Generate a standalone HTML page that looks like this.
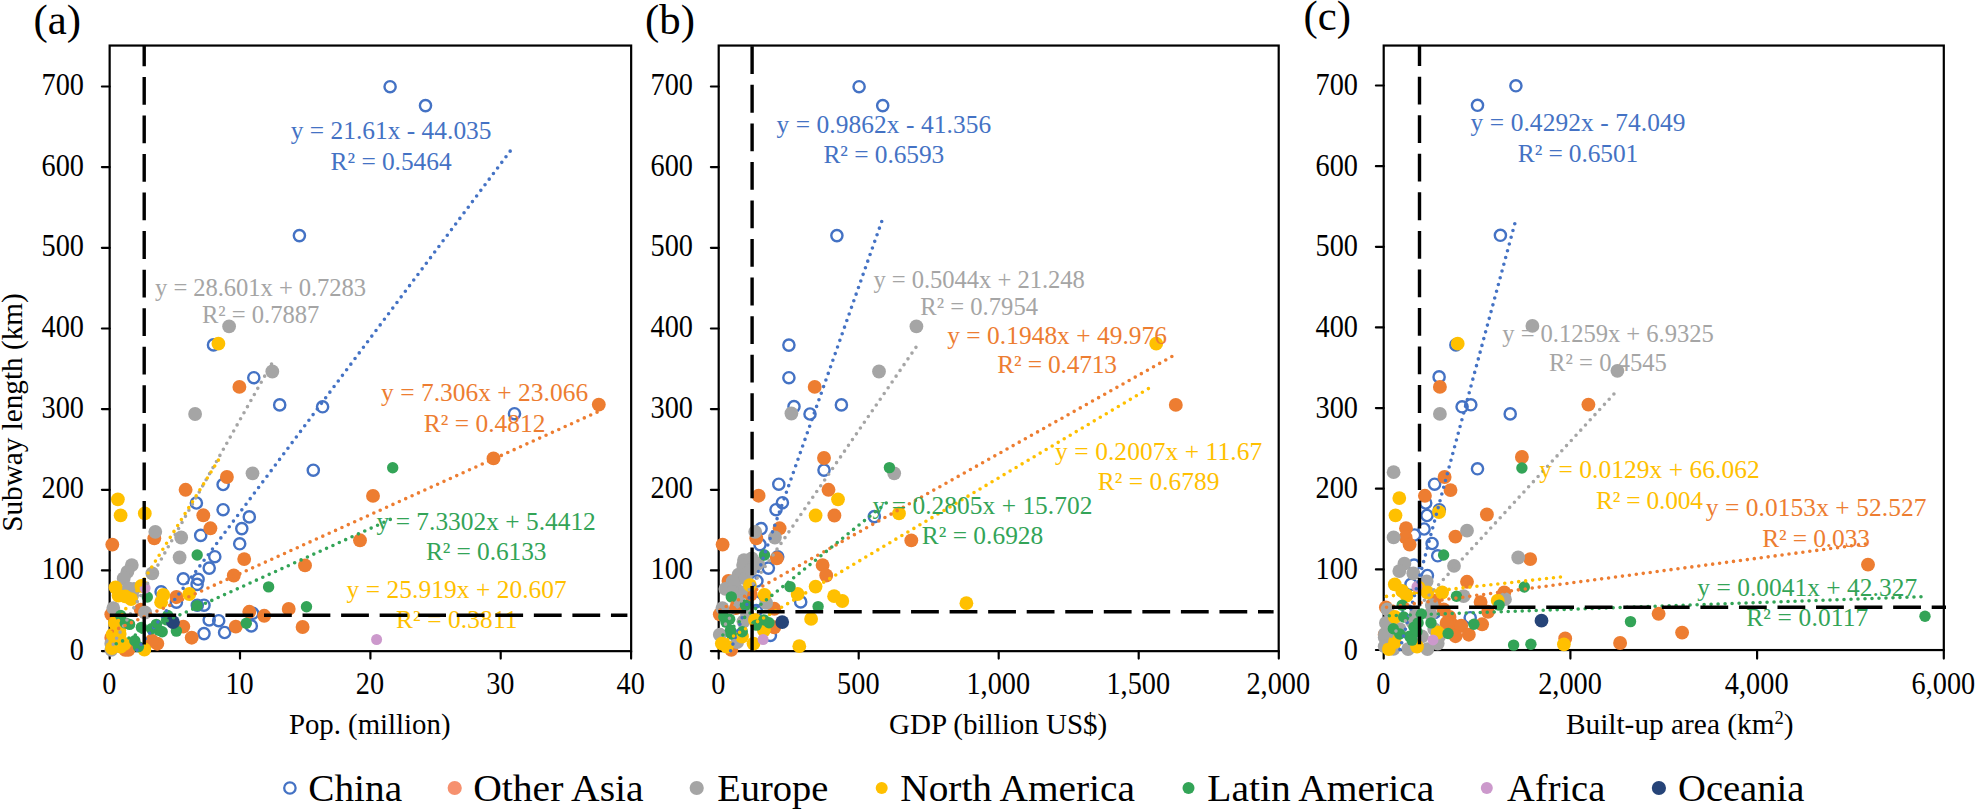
<!DOCTYPE html>
<html lang="en"><head><meta charset="utf-8"><title>Subway length vs population, GDP and built-up area</title>
<style>html,body{margin:0;padding:0;background:#fff;overflow:hidden}svg{display:block}</style></head>
<body>
<svg width="1975" height="811" viewBox="0 0 1975 811" font-family="'Liberation Serif', serif">
<rect width="1975" height="811" fill="#fff"/>
<g id="panel-a">
<rect x="109.65" y="45.55" width="521.5" height="605.6" fill="none" stroke="#000" stroke-width="2.2"/>
<line x1="101.9" y1="651.1" x2="109.65" y2="651.1" stroke="#000" stroke-width="2.2" stroke-linecap="round"/>
<text transform="translate(84,659.7) scale(0.925,1)" font-size="30.6" text-anchor="end">0</text>
<line x1="101.9" y1="570.4" x2="109.65" y2="570.4" stroke="#000" stroke-width="2.2" stroke-linecap="round"/>
<text transform="translate(84,579) scale(0.925,1)" font-size="30.6" text-anchor="end">100</text>
<line x1="101.9" y1="489.8" x2="109.65" y2="489.8" stroke="#000" stroke-width="2.2" stroke-linecap="round"/>
<text transform="translate(84,498.4) scale(0.925,1)" font-size="30.6" text-anchor="end">200</text>
<line x1="101.9" y1="409.1" x2="109.65" y2="409.1" stroke="#000" stroke-width="2.2" stroke-linecap="round"/>
<text transform="translate(84,417.7) scale(0.925,1)" font-size="30.6" text-anchor="end">300</text>
<line x1="101.9" y1="328.5" x2="109.65" y2="328.5" stroke="#000" stroke-width="2.2" stroke-linecap="round"/>
<text transform="translate(84,337.1) scale(0.925,1)" font-size="30.6" text-anchor="end">400</text>
<line x1="101.9" y1="247.8" x2="109.65" y2="247.8" stroke="#000" stroke-width="2.2" stroke-linecap="round"/>
<text transform="translate(84,256.4) scale(0.925,1)" font-size="30.6" text-anchor="end">500</text>
<line x1="101.9" y1="167.1" x2="109.65" y2="167.1" stroke="#000" stroke-width="2.2" stroke-linecap="round"/>
<text transform="translate(84,175.7) scale(0.925,1)" font-size="30.6" text-anchor="end">600</text>
<line x1="101.9" y1="86.5" x2="109.65" y2="86.5" stroke="#000" stroke-width="2.2" stroke-linecap="round"/>
<text transform="translate(84,95.1) scale(0.925,1)" font-size="30.6" text-anchor="end">700</text>
<line x1="109.7" y1="651.1" x2="109.7" y2="658.6" stroke="#000" stroke-width="2.2" stroke-linecap="round"/>
<text transform="translate(109.2,693.5) scale(0.925,1)" font-size="30.6" text-anchor="middle">0</text>
<line x1="240" y1="651.1" x2="240" y2="658.6" stroke="#000" stroke-width="2.2" stroke-linecap="round"/>
<text transform="translate(239.6,693.5) scale(0.925,1)" font-size="30.6" text-anchor="middle">10</text>
<line x1="370.4" y1="651.1" x2="370.4" y2="658.6" stroke="#000" stroke-width="2.2" stroke-linecap="round"/>
<text transform="translate(370,693.5) scale(0.925,1)" font-size="30.6" text-anchor="middle">20</text>
<line x1="500.7" y1="651.1" x2="500.7" y2="658.6" stroke="#000" stroke-width="2.2" stroke-linecap="round"/>
<text transform="translate(500.3,693.5) scale(0.925,1)" font-size="30.6" text-anchor="middle">30</text>
<line x1="631.1" y1="651.1" x2="631.1" y2="658.6" stroke="#000" stroke-width="2.2" stroke-linecap="round"/>
<text transform="translate(630.7,693.5) scale(0.925,1)" font-size="30.6" text-anchor="middle">40</text>
<circle cx="213.5" cy="344.9" r="5.6" fill="none" stroke="#4472C4" stroke-width="2.4"/>
<circle cx="253.8" cy="377.7" r="5.6" fill="none" stroke="#4472C4" stroke-width="2.4"/>
<circle cx="279.7" cy="404.9" r="5.6" fill="none" stroke="#4472C4" stroke-width="2.4"/>
<circle cx="322.6" cy="406.8" r="5.6" fill="none" stroke="#4472C4" stroke-width="2.4"/>
<circle cx="390.1" cy="86.7" r="5.6" fill="none" stroke="#4472C4" stroke-width="2.4"/>
<circle cx="425.5" cy="105.6" r="5.6" fill="none" stroke="#4472C4" stroke-width="2.4"/>
<circle cx="299.4" cy="235.6" r="5.6" fill="none" stroke="#4472C4" stroke-width="2.4"/>
<circle cx="514.5" cy="413.7" r="5.6" fill="none" stroke="#4472C4" stroke-width="2.4"/>
<circle cx="313.3" cy="470.2" r="5.6" fill="none" stroke="#4472C4" stroke-width="2.4"/>
<circle cx="196.4" cy="503" r="5.6" fill="none" stroke="#4472C4" stroke-width="2.4"/>
<circle cx="223.1" cy="484.5" r="5.6" fill="none" stroke="#4472C4" stroke-width="2.4"/>
<circle cx="223.1" cy="509.7" r="5.6" fill="none" stroke="#4472C4" stroke-width="2.4"/>
<circle cx="249.3" cy="516.9" r="5.6" fill="none" stroke="#4472C4" stroke-width="2.4"/>
<circle cx="241.8" cy="528.6" r="5.6" fill="none" stroke="#4472C4" stroke-width="2.4"/>
<circle cx="200.7" cy="535.4" r="5.6" fill="none" stroke="#4472C4" stroke-width="2.4"/>
<circle cx="239.7" cy="543.8" r="5.6" fill="none" stroke="#4472C4" stroke-width="2.4"/>
<circle cx="214.8" cy="556.7" r="5.6" fill="none" stroke="#4472C4" stroke-width="2.4"/>
<circle cx="252.7" cy="613.3" r="5.6" fill="none" stroke="#4472C4" stroke-width="2.4"/>
<circle cx="251.3" cy="625.9" r="5.6" fill="none" stroke="#4472C4" stroke-width="2.4"/>
<circle cx="218.7" cy="620.7" r="5.6" fill="none" stroke="#4472C4" stroke-width="2.4"/>
<circle cx="224.6" cy="632.5" r="5.6" fill="none" stroke="#4472C4" stroke-width="2.4"/>
<circle cx="209.2" cy="568.1" r="5.6" fill="none" stroke="#4472C4" stroke-width="2.4"/>
<circle cx="183.3" cy="578.8" r="5.6" fill="none" stroke="#4472C4" stroke-width="2.4"/>
<circle cx="198.1" cy="579.3" r="5.6" fill="none" stroke="#4472C4" stroke-width="2.4"/>
<circle cx="197.1" cy="584.4" r="5.6" fill="none" stroke="#4472C4" stroke-width="2.4"/>
<circle cx="161.1" cy="591.8" r="5.6" fill="none" stroke="#4472C4" stroke-width="2.4"/>
<circle cx="176.4" cy="602.2" r="5.6" fill="none" stroke="#4472C4" stroke-width="2.4"/>
<circle cx="197.3" cy="605.2" r="5.6" fill="none" stroke="#4472C4" stroke-width="2.4"/>
<circle cx="204" cy="605.2" r="5.6" fill="none" stroke="#4472C4" stroke-width="2.4"/>
<circle cx="204" cy="633.6" r="5.6" fill="none" stroke="#4472C4" stroke-width="2.4"/>
<circle cx="209.2" cy="619.9" r="5.6" fill="none" stroke="#4472C4" stroke-width="2.4"/>
<circle cx="239.4" cy="386.9" r="6.95" fill="#ED7D31"/>
<circle cx="598.8" cy="404.6" r="6.95" fill="#ED7D31"/>
<circle cx="493.5" cy="458.4" r="6.95" fill="#ED7D31"/>
<circle cx="373" cy="495.9" r="6.95" fill="#ED7D31"/>
<circle cx="360" cy="540.3" r="6.95" fill="#ED7D31"/>
<circle cx="305" cy="565.4" r="6.95" fill="#ED7D31"/>
<circle cx="302.6" cy="627" r="6.95" fill="#ED7D31"/>
<circle cx="112.3" cy="544.6" r="6.95" fill="#ED7D31"/>
<circle cx="185.6" cy="489.8" r="6.95" fill="#ED7D31"/>
<circle cx="226.9" cy="477" r="6.95" fill="#ED7D31"/>
<circle cx="203.3" cy="515.3" r="6.95" fill="#ED7D31"/>
<circle cx="210.4" cy="528.3" r="6.95" fill="#ED7D31"/>
<circle cx="154.3" cy="538.3" r="6.95" fill="#ED7D31"/>
<circle cx="244.2" cy="559.1" r="6.95" fill="#ED7D31"/>
<circle cx="233.8" cy="575.5" r="6.95" fill="#ED7D31"/>
<circle cx="249.3" cy="611.8" r="6.95" fill="#ED7D31"/>
<circle cx="264.2" cy="615.8" r="6.95" fill="#ED7D31"/>
<circle cx="288.7" cy="608.9" r="6.95" fill="#ED7D31"/>
<circle cx="235.8" cy="626.6" r="6.95" fill="#ED7D31"/>
<circle cx="176.4" cy="597" r="6.95" fill="#ED7D31"/>
<circle cx="183.3" cy="626.6" r="6.95" fill="#ED7D31"/>
<circle cx="191.7" cy="637.7" r="6.95" fill="#ED7D31"/>
<circle cx="157.3" cy="643.7" r="6.95" fill="#ED7D31"/>
<circle cx="111.3" cy="637.7" r="6.95" fill="#ED7D31"/>
<circle cx="125.2" cy="649.8" r="6.95" fill="#ED7D31"/>
<circle cx="151.9" cy="640.7" r="6.95" fill="#ED7D31"/>
<circle cx="140.7" cy="609.6" r="6.95" fill="#ED7D31"/>
<circle cx="111.3" cy="614.3" r="6.95" fill="#ED7D31"/>
<circle cx="128.4" cy="649.8" r="6.95" fill="#ED7D31"/>
<circle cx="229.1" cy="326.4" r="6.9" fill="#A5A5A5"/>
<circle cx="272.3" cy="371.5" r="6.9" fill="#A5A5A5"/>
<circle cx="195.1" cy="414" r="6.9" fill="#A5A5A5"/>
<circle cx="252.5" cy="473.3" r="6.9" fill="#A5A5A5"/>
<circle cx="155.3" cy="531.8" r="6.9" fill="#A5A5A5"/>
<circle cx="181.2" cy="537.5" r="6.9" fill="#A5A5A5"/>
<circle cx="179.6" cy="557.5" r="6.9" fill="#A5A5A5"/>
<circle cx="152.3" cy="573.3" r="6.9" fill="#A5A5A5"/>
<circle cx="111.3" cy="643.7" r="6.9" fill="#A5A5A5"/>
<circle cx="111.3" cy="649.8" r="6.9" fill="#A5A5A5"/>
<circle cx="131.8" cy="565.1" r="6.9" fill="#A5A5A5"/>
<circle cx="127.4" cy="571.8" r="6.9" fill="#A5A5A5"/>
<circle cx="123.7" cy="578.5" r="6.9" fill="#A5A5A5"/>
<circle cx="134" cy="588.9" r="6.9" fill="#A5A5A5"/>
<circle cx="113.3" cy="608.1" r="6.9" fill="#A5A5A5"/>
<circle cx="145.1" cy="612.5" r="6.9" fill="#A5A5A5"/>
<circle cx="128.4" cy="588.4" r="6.9" fill="#A5A5A5"/>
<circle cx="132.1" cy="595.7" r="6.9" fill="#A5A5A5"/>
<circle cx="218.4" cy="343.7" r="6.9" fill="#FFC000"/>
<circle cx="117.9" cy="499.3" r="6.9" fill="#FFC000"/>
<circle cx="120.6" cy="515.3" r="6.9" fill="#FFC000"/>
<circle cx="144.8" cy="513.4" r="6.9" fill="#FFC000"/>
<circle cx="189.3" cy="594" r="6.9" fill="#FFC000"/>
<circle cx="163.3" cy="594.8" r="6.9" fill="#FFC000"/>
<circle cx="161.1" cy="602.2" r="6.9" fill="#FFC000"/>
<circle cx="115.5" cy="587.4" r="6.9" fill="#FFC000"/>
<circle cx="118.5" cy="595.5" r="6.9" fill="#FFC000"/>
<circle cx="131.1" cy="599.2" r="6.9" fill="#FFC000"/>
<circle cx="125.2" cy="596.3" r="6.9" fill="#FFC000"/>
<circle cx="141.4" cy="585.9" r="6.9" fill="#FFC000"/>
<circle cx="114.9" cy="622.9" r="6.9" fill="#FFC000"/>
<circle cx="119.3" cy="630.3" r="6.9" fill="#FFC000"/>
<circle cx="112.6" cy="634.7" r="6.9" fill="#FFC000"/>
<circle cx="114.9" cy="643.7" r="6.9" fill="#FFC000"/>
<circle cx="111.9" cy="648.1" r="6.9" fill="#FFC000"/>
<circle cx="120.7" cy="646.6" r="6.9" fill="#FFC000"/>
<circle cx="144.4" cy="649.5" r="6.9" fill="#FFC000"/>
<circle cx="119.7" cy="634" r="6.9" fill="#FFC000"/>
<circle cx="124.6" cy="643.8" r="6.9" fill="#FFC000"/>
<circle cx="392.7" cy="467.8" r="5.7" fill="#33A457"/>
<circle cx="306.5" cy="606.8" r="5.7" fill="#33A457"/>
<circle cx="197.2" cy="555" r="5.7" fill="#33A457"/>
<circle cx="268.6" cy="586.9" r="5.7" fill="#33A457"/>
<circle cx="246.3" cy="623.3" r="5.7" fill="#33A457"/>
<circle cx="197.1" cy="605.6" r="5.7" fill="#33A457"/>
<circle cx="167.8" cy="615.5" r="5.7" fill="#33A457"/>
<circle cx="158.9" cy="630.3" r="5.7" fill="#33A457"/>
<circle cx="176.4" cy="631.1" r="5.7" fill="#33A457"/>
<circle cx="151.5" cy="628.8" r="5.7" fill="#33A457"/>
<circle cx="147.3" cy="597" r="5.7" fill="#33A457"/>
<circle cx="120.7" cy="615.5" r="5.7" fill="#33A457"/>
<circle cx="129.6" cy="624.4" r="5.7" fill="#33A457"/>
<circle cx="125.2" cy="622.9" r="5.7" fill="#33A457"/>
<circle cx="141.4" cy="627.4" r="5.7" fill="#33A457"/>
<circle cx="134.8" cy="640.7" r="5.7" fill="#33A457"/>
<circle cx="138.4" cy="646.6" r="5.7" fill="#33A457"/>
<circle cx="156.3" cy="624.4" r="5.7" fill="#33A457"/>
<circle cx="162.2" cy="631.8" r="5.7" fill="#33A457"/>
<circle cx="166.6" cy="619.9" r="5.7" fill="#33A457"/>
<circle cx="376.6" cy="639.5" r="5.5" fill="#CC99CC"/>
<circle cx="145.1" cy="588.1" r="5.5" fill="#CC99CC"/>
<circle cx="173" cy="622.2" r="6.9" fill="#264478"/>
<line x1="137" y1="650" x2="513.8" y2="146.3" stroke="#4472C4" stroke-width="3.6" stroke-linecap="round" stroke-dasharray="0 7" stroke-dashoffset="0"/>
<line x1="112.3" y1="645.9" x2="272.6" y2="362.1" stroke="#A5A5A5" stroke-width="3.6" stroke-linecap="round" stroke-dasharray="0 7" stroke-dashoffset="5.2"/>
<line x1="112.3" y1="631.3" x2="598.5" y2="411.5" stroke="#ED7D31" stroke-width="3.6" stroke-linecap="round" stroke-dasharray="0 7" stroke-dashoffset="0"/>
<line x1="116.2" y1="643.8" x2="392.5" y2="518.4" stroke="#33A457" stroke-width="3.6" stroke-linecap="round" stroke-dasharray="0 7" stroke-dashoffset="0"/>
<line x1="111" y1="632.4" x2="220.5" y2="456.8" stroke="#FFC000" stroke-width="3.6" stroke-linecap="round" stroke-dasharray="0 7" stroke-dashoffset="0"/>
<text x="391.1" y="139.3" font-size="25.4" fill="#4472C4" text-anchor="middle" textLength="200.8" lengthAdjust="spacing">y = 21.61x - 44.035</text>
<text x="391.1" y="169.5" font-size="25.4" fill="#4472C4" text-anchor="middle" textLength="121" lengthAdjust="spacing">R² = 0.5464</text>
<text x="260.6" y="295.9" font-size="24.6" fill="#A5A5A5" text-anchor="middle" textLength="211" lengthAdjust="spacing">y = 28.601x + 0.7283</text>
<text x="260.6" y="322.8" font-size="24.6" fill="#A5A5A5" text-anchor="middle" textLength="117.4" lengthAdjust="spacing">R² = 0.7887</text>
<text x="484.6" y="401.4" font-size="25.4" fill="#ED7D31" text-anchor="middle" textLength="207.1" lengthAdjust="spacing">y = 7.306x + 23.066</text>
<text x="484.6" y="431.8" font-size="25.4" fill="#ED7D31" text-anchor="middle" textLength="121.5" lengthAdjust="spacing">R² = 0.4812</text>
<text x="486.2" y="530.2" font-size="25.4" fill="#33A457" text-anchor="middle" textLength="219.2" lengthAdjust="spacing">y = 7.3302x + 5.4412</text>
<text x="486.2" y="560.2" font-size="25.4" fill="#33A457" text-anchor="middle" textLength="120.5" lengthAdjust="spacing">R² = 0.6133</text>
<text x="456.7" y="597.5" font-size="25.4" fill="#FFC000" text-anchor="middle" textLength="220.2" lengthAdjust="spacing">y = 25.919x + 20.607</text>
<text x="456.7" y="627.5" font-size="25.4" fill="#FFC000" text-anchor="middle" textLength="121.5" lengthAdjust="spacing">R² = 0.3811</text>
<line x1="144.2" y1="644.4" x2="144.2" y2="45.6" stroke="#000" stroke-width="3.4" stroke-dasharray="27.8 10.75"/>
<line x1="109.8" y1="615.2" x2="627.4" y2="615.2" stroke="#000" stroke-width="3.4" stroke-dasharray="27.8 10.75"/>
</g>
<g id="panel-b">
<rect x="718.7" y="45.55" width="560" height="605.6" fill="none" stroke="#000" stroke-width="2.2"/>
<line x1="710.9" y1="651.1" x2="718.7" y2="651.1" stroke="#000" stroke-width="2.2" stroke-linecap="round"/>
<text transform="translate(693,659.7) scale(0.925,1)" font-size="30.6" text-anchor="end">0</text>
<line x1="710.9" y1="570.4" x2="718.7" y2="570.4" stroke="#000" stroke-width="2.2" stroke-linecap="round"/>
<text transform="translate(693,579) scale(0.925,1)" font-size="30.6" text-anchor="end">100</text>
<line x1="710.9" y1="489.8" x2="718.7" y2="489.8" stroke="#000" stroke-width="2.2" stroke-linecap="round"/>
<text transform="translate(693,498.4) scale(0.925,1)" font-size="30.6" text-anchor="end">200</text>
<line x1="710.9" y1="409.1" x2="718.7" y2="409.1" stroke="#000" stroke-width="2.2" stroke-linecap="round"/>
<text transform="translate(693,417.7) scale(0.925,1)" font-size="30.6" text-anchor="end">300</text>
<line x1="710.9" y1="328.5" x2="718.7" y2="328.5" stroke="#000" stroke-width="2.2" stroke-linecap="round"/>
<text transform="translate(693,337.1) scale(0.925,1)" font-size="30.6" text-anchor="end">400</text>
<line x1="710.9" y1="247.8" x2="718.7" y2="247.8" stroke="#000" stroke-width="2.2" stroke-linecap="round"/>
<text transform="translate(693,256.4) scale(0.925,1)" font-size="30.6" text-anchor="end">500</text>
<line x1="710.9" y1="167.1" x2="718.7" y2="167.1" stroke="#000" stroke-width="2.2" stroke-linecap="round"/>
<text transform="translate(693,175.7) scale(0.925,1)" font-size="30.6" text-anchor="end">600</text>
<line x1="710.9" y1="86.5" x2="718.7" y2="86.5" stroke="#000" stroke-width="2.2" stroke-linecap="round"/>
<text transform="translate(693,95.1) scale(0.925,1)" font-size="30.6" text-anchor="end">700</text>
<line x1="718.7" y1="651.1" x2="718.7" y2="658.6" stroke="#000" stroke-width="2.2" stroke-linecap="round"/>
<text transform="translate(718.3,693.5) scale(0.925,1)" font-size="30.6" text-anchor="middle">0</text>
<line x1="858.7" y1="651.1" x2="858.7" y2="658.6" stroke="#000" stroke-width="2.2" stroke-linecap="round"/>
<text transform="translate(858.3,693.5) scale(0.925,1)" font-size="30.6" text-anchor="middle">500</text>
<line x1="998.7" y1="651.1" x2="998.7" y2="658.6" stroke="#000" stroke-width="2.2" stroke-linecap="round"/>
<text transform="translate(998.3,693.5) scale(0.925,1)" font-size="30.6" text-anchor="middle">1,000</text>
<line x1="1138.7" y1="651.1" x2="1138.7" y2="658.6" stroke="#000" stroke-width="2.2" stroke-linecap="round"/>
<text transform="translate(1138.3,693.5) scale(0.925,1)" font-size="30.6" text-anchor="middle">1,500</text>
<line x1="1278.8" y1="651.1" x2="1278.8" y2="658.6" stroke="#000" stroke-width="2.2" stroke-linecap="round"/>
<text transform="translate(1278.3,693.5) scale(0.925,1)" font-size="30.6" text-anchor="middle">2,000</text>
<circle cx="859.1" cy="86.7" r="5.6" fill="none" stroke="#4472C4" stroke-width="2.4"/>
<circle cx="882.7" cy="105.6" r="5.6" fill="none" stroke="#4472C4" stroke-width="2.4"/>
<circle cx="836.9" cy="235.6" r="5.6" fill="none" stroke="#4472C4" stroke-width="2.4"/>
<circle cx="788.9" cy="345.1" r="5.6" fill="none" stroke="#4472C4" stroke-width="2.4"/>
<circle cx="788.9" cy="377.7" r="5.6" fill="none" stroke="#4472C4" stroke-width="2.4"/>
<circle cx="841.4" cy="404.9" r="5.6" fill="none" stroke="#4472C4" stroke-width="2.4"/>
<circle cx="794" cy="406.6" r="5.6" fill="none" stroke="#4472C4" stroke-width="2.4"/>
<circle cx="810" cy="414" r="5.6" fill="none" stroke="#4472C4" stroke-width="2.4"/>
<circle cx="824" cy="470.1" r="5.6" fill="none" stroke="#4472C4" stroke-width="2.4"/>
<circle cx="874.3" cy="516.6" r="5.6" fill="none" stroke="#4472C4" stroke-width="2.4"/>
<circle cx="778.8" cy="484.2" r="5.6" fill="none" stroke="#4472C4" stroke-width="2.4"/>
<circle cx="782.4" cy="502.7" r="5.6" fill="none" stroke="#4472C4" stroke-width="2.4"/>
<circle cx="776" cy="509.7" r="5.6" fill="none" stroke="#4472C4" stroke-width="2.4"/>
<circle cx="761.1" cy="528.6" r="5.6" fill="none" stroke="#4472C4" stroke-width="2.4"/>
<circle cx="760" cy="544.6" r="5.6" fill="none" stroke="#4472C4" stroke-width="2.4"/>
<circle cx="777.7" cy="556.7" r="5.6" fill="none" stroke="#4472C4" stroke-width="2.4"/>
<circle cx="800.7" cy="601.9" r="5.6" fill="none" stroke="#4472C4" stroke-width="2.4"/>
<circle cx="770.4" cy="635.4" r="5.6" fill="none" stroke="#4472C4" stroke-width="2.4"/>
<circle cx="768.4" cy="568.1" r="5.6" fill="none" stroke="#4472C4" stroke-width="2.4"/>
<circle cx="755.5" cy="601.9" r="5.6" fill="none" stroke="#4472C4" stroke-width="2.4"/>
<circle cx="756.3" cy="610.6" r="5.6" fill="none" stroke="#4472C4" stroke-width="2.4"/>
<circle cx="756.9" cy="581" r="5.6" fill="none" stroke="#4472C4" stroke-width="2.4"/>
<circle cx="814.7" cy="386.9" r="6.95" fill="#ED7D31"/>
<circle cx="824" cy="458" r="6.95" fill="#ED7D31"/>
<circle cx="828.5" cy="489.8" r="6.95" fill="#ED7D31"/>
<circle cx="834.4" cy="515.5" r="6.95" fill="#ED7D31"/>
<circle cx="911.3" cy="540.4" r="6.95" fill="#ED7D31"/>
<circle cx="758.6" cy="495.7" r="6.95" fill="#ED7D31"/>
<circle cx="756.3" cy="538.3" r="6.95" fill="#ED7D31"/>
<circle cx="779.6" cy="528.3" r="6.95" fill="#ED7D31"/>
<circle cx="722.6" cy="544.6" r="6.95" fill="#ED7D31"/>
<circle cx="776.8" cy="558.3" r="6.95" fill="#ED7D31"/>
<circle cx="822.6" cy="565.1" r="6.95" fill="#ED7D31"/>
<circle cx="826.2" cy="575.5" r="6.95" fill="#ED7D31"/>
<circle cx="774.3" cy="608.8" r="6.95" fill="#ED7D31"/>
<circle cx="731.3" cy="649.8" r="6.95" fill="#ED7D31"/>
<circle cx="774.3" cy="627.3" r="6.95" fill="#ED7D31"/>
<circle cx="1175.8" cy="404.9" r="6.95" fill="#ED7D31"/>
<circle cx="719.8" cy="614.3" r="6.95" fill="#ED7D31"/>
<circle cx="735.8" cy="608.1" r="6.95" fill="#ED7D31"/>
<circle cx="728.5" cy="581" r="6.95" fill="#ED7D31"/>
<circle cx="750.7" cy="594.5" r="6.95" fill="#ED7D31"/>
<circle cx="916.4" cy="326.4" r="6.9" fill="#A5A5A5"/>
<circle cx="879" cy="371.5" r="6.9" fill="#A5A5A5"/>
<circle cx="791.4" cy="413.5" r="6.9" fill="#A5A5A5"/>
<circle cx="894.2" cy="473.3" r="6.9" fill="#A5A5A5"/>
<circle cx="755.2" cy="531.8" r="6.9" fill="#A5A5A5"/>
<circle cx="774.9" cy="537.5" r="6.9" fill="#A5A5A5"/>
<circle cx="751.8" cy="558.3" r="6.9" fill="#A5A5A5"/>
<circle cx="744" cy="560.1" r="6.9" fill="#A5A5A5"/>
<circle cx="743.1" cy="565.1" r="6.9" fill="#A5A5A5"/>
<circle cx="738.6" cy="574.7" r="6.9" fill="#A5A5A5"/>
<circle cx="732.7" cy="581.4" r="6.9" fill="#A5A5A5"/>
<circle cx="725.4" cy="588.9" r="6.9" fill="#A5A5A5"/>
<circle cx="722.4" cy="608.1" r="6.9" fill="#A5A5A5"/>
<circle cx="766.2" cy="602.9" r="6.9" fill="#A5A5A5"/>
<circle cx="737.2" cy="642.1" r="6.9" fill="#A5A5A5"/>
<circle cx="719.8" cy="634.7" r="6.9" fill="#A5A5A5"/>
<circle cx="734.7" cy="584.7" r="6.9" fill="#A5A5A5"/>
<circle cx="740.9" cy="592.1" r="6.9" fill="#A5A5A5"/>
<circle cx="745.7" cy="578.5" r="6.9" fill="#A5A5A5"/>
<circle cx="750.7" cy="569.9" r="6.9" fill="#A5A5A5"/>
<circle cx="732.2" cy="592.1" r="6.9" fill="#A5A5A5"/>
<circle cx="738.4" cy="600.7" r="6.9" fill="#A5A5A5"/>
<circle cx="747.1" cy="614.3" r="6.9" fill="#A5A5A5"/>
<circle cx="743.4" cy="621.6" r="6.9" fill="#A5A5A5"/>
<circle cx="758" cy="563.7" r="6.9" fill="#A5A5A5"/>
<circle cx="838" cy="499.3" r="6.9" fill="#FFC000"/>
<circle cx="815.6" cy="515.5" r="6.9" fill="#FFC000"/>
<circle cx="899" cy="513.4" r="6.9" fill="#FFC000"/>
<circle cx="815.6" cy="586.6" r="6.9" fill="#FFC000"/>
<circle cx="797.6" cy="594" r="6.9" fill="#FFC000"/>
<circle cx="834.1" cy="596.2" r="6.9" fill="#FFC000"/>
<circle cx="842.3" cy="601" r="6.9" fill="#FFC000"/>
<circle cx="811.1" cy="618.9" r="6.9" fill="#FFC000"/>
<circle cx="799.3" cy="646.2" r="6.9" fill="#FFC000"/>
<circle cx="749.9" cy="585.1" r="6.9" fill="#FFC000"/>
<circle cx="764.5" cy="594.8" r="6.9" fill="#FFC000"/>
<circle cx="763.9" cy="630.3" r="6.9" fill="#FFC000"/>
<circle cx="753.5" cy="643.6" r="6.9" fill="#FFC000"/>
<circle cx="721.8" cy="643.6" r="6.9" fill="#FFC000"/>
<circle cx="726.8" cy="646.6" r="6.9" fill="#FFC000"/>
<circle cx="754.9" cy="619.9" r="6.9" fill="#FFC000"/>
<circle cx="966.4" cy="603.2" r="6.9" fill="#FFC000"/>
<circle cx="1156.2" cy="343.7" r="6.9" fill="#FFC000"/>
<circle cx="742" cy="636.5" r="6.9" fill="#FFC000"/>
<circle cx="889.4" cy="467.6" r="5.7" fill="#33A457"/>
<circle cx="764.5" cy="555" r="5.7" fill="#33A457"/>
<circle cx="790" cy="586.6" r="5.7" fill="#33A457"/>
<circle cx="818.1" cy="606.6" r="5.7" fill="#33A457"/>
<circle cx="731.3" cy="596.9" r="5.7" fill="#33A457"/>
<circle cx="745.4" cy="605.1" r="5.7" fill="#33A457"/>
<circle cx="763.9" cy="619.9" r="5.7" fill="#33A457"/>
<circle cx="769" cy="622.8" r="5.7" fill="#33A457"/>
<circle cx="756.3" cy="625.1" r="5.7" fill="#33A457"/>
<circle cx="726" cy="622.1" r="5.7" fill="#33A457"/>
<circle cx="730.5" cy="630.3" r="5.7" fill="#33A457"/>
<circle cx="742.3" cy="631.7" r="5.7" fill="#33A457"/>
<circle cx="723.8" cy="616.9" r="5.7" fill="#33A457"/>
<circle cx="729.7" cy="619.2" r="5.7" fill="#33A457"/>
<circle cx="731.1" cy="634" r="5.7" fill="#33A457"/>
<circle cx="763.1" cy="639.5" r="5.5" fill="#CC99CC"/>
<circle cx="782.2" cy="622.1" r="6.9" fill="#264478"/>
<line x1="730.6" y1="650.7" x2="882" y2="220.7" stroke="#4472C4" stroke-width="3.6" stroke-linecap="round" stroke-dasharray="0 7" stroke-dashoffset="0"/>
<line x1="721.5" y1="629.9" x2="916.1" y2="347.1" stroke="#A5A5A5" stroke-width="3.6" stroke-linecap="round" stroke-dasharray="0 7" stroke-dashoffset="0"/>
<line x1="720.1" y1="610" x2="1177.1" y2="353.6" stroke="#ED7D31" stroke-width="3.6" stroke-linecap="round" stroke-dasharray="0 7" stroke-dashoffset="0"/>
<line x1="721.5" y1="643.1" x2="1151.9" y2="386.5" stroke="#FFC000" stroke-width="3.6" stroke-linecap="round" stroke-dasharray="0 7" stroke-dashoffset="0"/>
<line x1="722.9" y1="635" x2="889.5" y2="500.4" stroke="#33A457" stroke-width="3.6" stroke-linecap="round" stroke-dasharray="0 7" stroke-dashoffset="0"/>
<text x="883.9" y="133.1" font-size="25.4" fill="#4472C4" text-anchor="middle" textLength="214.7" lengthAdjust="spacing">y = 0.9862x - 41.356</text>
<text x="883.9" y="163.2" font-size="25.4" fill="#4472C4" text-anchor="middle" textLength="120.8" lengthAdjust="spacing">R² = 0.6593</text>
<text x="979.1" y="287.5" font-size="24.6" fill="#A5A5A5" text-anchor="middle" textLength="211.4" lengthAdjust="spacing">y = 0.5044x + 21.248</text>
<text x="979.1" y="315" font-size="24.6" fill="#A5A5A5" text-anchor="middle" textLength="117.8" lengthAdjust="spacing">R² = 0.7954</text>
<text x="1057.1" y="343.7" font-size="25.4" fill="#ED7D31" text-anchor="middle" textLength="219.8" lengthAdjust="spacing">y = 0.1948x + 49.976</text>
<text x="1057.1" y="373.1" font-size="25.4" fill="#ED7D31" text-anchor="middle" textLength="119.7" lengthAdjust="spacing">R² = 0.4713</text>
<text x="1158.6" y="460.2" font-size="25.4" fill="#FFC000" text-anchor="middle" textLength="207.1" lengthAdjust="spacing">y = 0.2007x + 11.67</text>
<text x="1158.6" y="490.1" font-size="25.4" fill="#FFC000" text-anchor="middle" textLength="121.5" lengthAdjust="spacing">R² = 0.6789</text>
<text x="982.5" y="513.8" font-size="25.4" fill="#33A457" text-anchor="middle" textLength="219.8" lengthAdjust="spacing">y = 0.2805x + 15.702</text>
<text x="982.5" y="543.6" font-size="25.4" fill="#33A457" text-anchor="middle" textLength="121.5" lengthAdjust="spacing">R² = 0.6928</text>
<line x1="752.1" y1="46.3" x2="752.1" y2="651" stroke="#000" stroke-width="3.4" stroke-dasharray="27.8 10.75"/>
<line x1="718.3" y1="611.8" x2="1273.6" y2="611.8" stroke="#000" stroke-width="3.4" stroke-dasharray="27.8 10.75"/>
</g>
<g id="panel-c">
<rect x="1383.7" y="45.55" width="560.1" height="604.5" fill="none" stroke="#000" stroke-width="2.2"/>
<line x1="1375.9" y1="650" x2="1383.7" y2="650" stroke="#000" stroke-width="2.2" stroke-linecap="round"/>
<text transform="translate(1358,659.7) scale(0.925,1)" font-size="30.6" text-anchor="end">0</text>
<line x1="1375.9" y1="569.4" x2="1383.7" y2="569.4" stroke="#000" stroke-width="2.2" stroke-linecap="round"/>
<text transform="translate(1358,579) scale(0.925,1)" font-size="30.6" text-anchor="end">100</text>
<line x1="1375.9" y1="488.7" x2="1383.7" y2="488.7" stroke="#000" stroke-width="2.2" stroke-linecap="round"/>
<text transform="translate(1358,498.4) scale(0.925,1)" font-size="30.6" text-anchor="end">200</text>
<line x1="1375.9" y1="408.1" x2="1383.7" y2="408.1" stroke="#000" stroke-width="2.2" stroke-linecap="round"/>
<text transform="translate(1358,417.7) scale(0.925,1)" font-size="30.6" text-anchor="end">300</text>
<line x1="1375.9" y1="327.4" x2="1383.7" y2="327.4" stroke="#000" stroke-width="2.2" stroke-linecap="round"/>
<text transform="translate(1358,337.1) scale(0.925,1)" font-size="30.6" text-anchor="end">400</text>
<line x1="1375.9" y1="246.8" x2="1383.7" y2="246.8" stroke="#000" stroke-width="2.2" stroke-linecap="round"/>
<text transform="translate(1358,256.4) scale(0.925,1)" font-size="30.6" text-anchor="end">500</text>
<line x1="1375.9" y1="166.2" x2="1383.7" y2="166.2" stroke="#000" stroke-width="2.2" stroke-linecap="round"/>
<text transform="translate(1358,175.7) scale(0.925,1)" font-size="30.6" text-anchor="end">600</text>
<line x1="1375.9" y1="85.5" x2="1383.7" y2="85.5" stroke="#000" stroke-width="2.2" stroke-linecap="round"/>
<text transform="translate(1358,95.1) scale(0.925,1)" font-size="30.6" text-anchor="end">700</text>
<line x1="1383.7" y1="650.0" x2="1383.7" y2="658.6" stroke="#000" stroke-width="2.2" stroke-linecap="round"/>
<text transform="translate(1383.3,693.5) scale(0.925,1)" font-size="30.6" text-anchor="middle">0</text>
<line x1="1570.4" y1="650.0" x2="1570.4" y2="658.6" stroke="#000" stroke-width="2.2" stroke-linecap="round"/>
<text transform="translate(1570,693.5) scale(0.925,1)" font-size="30.6" text-anchor="middle">2,000</text>
<line x1="1757.1" y1="650.0" x2="1757.1" y2="658.6" stroke="#000" stroke-width="2.2" stroke-linecap="round"/>
<text transform="translate(1756.7,693.5) scale(0.925,1)" font-size="30.6" text-anchor="middle">4,000</text>
<line x1="1943.8" y1="650.0" x2="1943.8" y2="658.6" stroke="#000" stroke-width="2.2" stroke-linecap="round"/>
<text transform="translate(1943.4,693.5) scale(0.925,1)" font-size="30.6" text-anchor="middle">6,000</text>
<circle cx="1455.9" cy="344.9" r="5.6" fill="none" stroke="#4472C4" stroke-width="2.4"/>
<circle cx="1439.1" cy="376.9" r="5.6" fill="none" stroke="#4472C4" stroke-width="2.4"/>
<circle cx="1462.1" cy="406.8" r="5.6" fill="none" stroke="#4472C4" stroke-width="2.4"/>
<circle cx="1470.8" cy="404.8" r="5.6" fill="none" stroke="#4472C4" stroke-width="2.4"/>
<circle cx="1510.2" cy="413.9" r="5.6" fill="none" stroke="#4472C4" stroke-width="2.4"/>
<circle cx="1477.5" cy="105.3" r="5.6" fill="none" stroke="#4472C4" stroke-width="2.4"/>
<circle cx="1500.4" cy="235.3" r="5.6" fill="none" stroke="#4472C4" stroke-width="2.4"/>
<circle cx="1515.9" cy="85.8" r="5.6" fill="none" stroke="#4472C4" stroke-width="2.4"/>
<circle cx="1414.5" cy="535" r="5.6" fill="none" stroke="#4472C4" stroke-width="2.4"/>
<circle cx="1425.7" cy="503" r="5.6" fill="none" stroke="#4472C4" stroke-width="2.4"/>
<circle cx="1434.6" cy="484.2" r="5.6" fill="none" stroke="#4472C4" stroke-width="2.4"/>
<circle cx="1439.3" cy="509.7" r="5.6" fill="none" stroke="#4472C4" stroke-width="2.4"/>
<circle cx="1427" cy="515.5" r="5.6" fill="none" stroke="#4472C4" stroke-width="2.4"/>
<circle cx="1424.1" cy="529" r="5.6" fill="none" stroke="#4472C4" stroke-width="2.4"/>
<circle cx="1432.1" cy="543.5" r="5.6" fill="none" stroke="#4472C4" stroke-width="2.4"/>
<circle cx="1477.5" cy="468.8" r="5.6" fill="none" stroke="#4472C4" stroke-width="2.4"/>
<circle cx="1437.7" cy="555.8" r="5.6" fill="none" stroke="#4472C4" stroke-width="2.4"/>
<circle cx="1470.2" cy="617.7" r="5.6" fill="none" stroke="#4472C4" stroke-width="2.4"/>
<circle cx="1427.4" cy="575.5" r="5.6" fill="none" stroke="#4472C4" stroke-width="2.4"/>
<circle cx="1414" cy="565.1" r="5.6" fill="none" stroke="#4472C4" stroke-width="2.4"/>
<circle cx="1411" cy="584.4" r="5.6" fill="none" stroke="#4472C4" stroke-width="2.4"/>
<circle cx="1408.1" cy="611" r="5.6" fill="none" stroke="#4472C4" stroke-width="2.4"/>
<circle cx="1434.7" cy="612.5" r="5.6" fill="none" stroke="#4472C4" stroke-width="2.4"/>
<circle cx="1439.9" cy="386.9" r="6.95" fill="#ED7D31"/>
<circle cx="1588.4" cy="404.6" r="6.95" fill="#ED7D31"/>
<circle cx="1406" cy="528.2" r="6.95" fill="#ED7D31"/>
<circle cx="1405.6" cy="537.4" r="6.95" fill="#ED7D31"/>
<circle cx="1409.6" cy="544.6" r="6.95" fill="#ED7D31"/>
<circle cx="1424.9" cy="495.8" r="6.95" fill="#ED7D31"/>
<circle cx="1444.6" cy="477" r="6.95" fill="#ED7D31"/>
<circle cx="1450.5" cy="490.1" r="6.95" fill="#ED7D31"/>
<circle cx="1521.9" cy="457" r="6.95" fill="#ED7D31"/>
<circle cx="1486.9" cy="514.5" r="6.95" fill="#ED7D31"/>
<circle cx="1455.4" cy="536.6" r="6.95" fill="#ED7D31"/>
<circle cx="1530.2" cy="559.1" r="6.95" fill="#ED7D31"/>
<circle cx="1467" cy="581.8" r="6.95" fill="#ED7D31"/>
<circle cx="1504.3" cy="592.5" r="6.95" fill="#ED7D31"/>
<circle cx="1480.6" cy="602.1" r="6.95" fill="#ED7D31"/>
<circle cx="1488" cy="611.8" r="6.95" fill="#ED7D31"/>
<circle cx="1482.1" cy="624.3" r="6.95" fill="#ED7D31"/>
<circle cx="1565.2" cy="638.4" r="6.95" fill="#ED7D31"/>
<circle cx="1443.6" cy="609.5" r="6.95" fill="#ED7D31"/>
<circle cx="1449.5" cy="617" r="6.95" fill="#ED7D31"/>
<circle cx="1454" cy="625.8" r="6.95" fill="#ED7D31"/>
<circle cx="1461.3" cy="625.8" r="6.95" fill="#ED7D31"/>
<circle cx="1455.5" cy="636.2" r="6.95" fill="#ED7D31"/>
<circle cx="1468.8" cy="634.7" r="6.95" fill="#ED7D31"/>
<circle cx="1446.6" cy="622.9" r="6.95" fill="#ED7D31"/>
<circle cx="1385.9" cy="607.4" r="6.95" fill="#ED7D31"/>
<circle cx="1384.7" cy="634.7" r="6.95" fill="#ED7D31"/>
<circle cx="1434.7" cy="600.7" r="6.95" fill="#ED7D31"/>
<circle cx="1868" cy="564.6" r="6.95" fill="#ED7D31"/>
<circle cx="1658.6" cy="613.8" r="6.95" fill="#ED7D31"/>
<circle cx="1682.1" cy="632.6" r="6.95" fill="#ED7D31"/>
<circle cx="1620.1" cy="643" r="6.95" fill="#ED7D31"/>
<circle cx="1532.4" cy="325.9" r="6.9" fill="#A5A5A5"/>
<circle cx="1439.9" cy="413.9" r="6.9" fill="#A5A5A5"/>
<circle cx="1617.4" cy="370.8" r="6.9" fill="#A5A5A5"/>
<circle cx="1393.6" cy="472.2" r="6.9" fill="#A5A5A5"/>
<circle cx="1393.6" cy="537.4" r="6.9" fill="#A5A5A5"/>
<circle cx="1467" cy="530.7" r="6.9" fill="#A5A5A5"/>
<circle cx="1518.2" cy="557.5" r="6.9" fill="#A5A5A5"/>
<circle cx="1454" cy="565.9" r="6.9" fill="#A5A5A5"/>
<circle cx="1505" cy="599.2" r="6.9" fill="#A5A5A5"/>
<circle cx="1463.6" cy="596.2" r="6.9" fill="#A5A5A5"/>
<circle cx="1404.4" cy="563.7" r="6.9" fill="#A5A5A5"/>
<circle cx="1399.3" cy="571.1" r="6.9" fill="#A5A5A5"/>
<circle cx="1413.3" cy="573.3" r="6.9" fill="#A5A5A5"/>
<circle cx="1426.6" cy="581.4" r="6.9" fill="#A5A5A5"/>
<circle cx="1387.4" cy="609.5" r="6.9" fill="#A5A5A5"/>
<circle cx="1385.9" cy="622.9" r="6.9" fill="#A5A5A5"/>
<circle cx="1384.7" cy="637.6" r="6.9" fill="#A5A5A5"/>
<circle cx="1408.1" cy="649.1" r="6.9" fill="#A5A5A5"/>
<circle cx="1427.4" cy="649.1" r="6.9" fill="#A5A5A5"/>
<circle cx="1437.7" cy="643.6" r="6.9" fill="#A5A5A5"/>
<circle cx="1431.8" cy="605.1" r="6.9" fill="#A5A5A5"/>
<circle cx="1389.8" cy="638.9" r="6.9" fill="#A5A5A5"/>
<circle cx="1412" cy="621.6" r="6.9" fill="#A5A5A5"/>
<circle cx="1430.5" cy="614.2" r="6.9" fill="#A5A5A5"/>
<circle cx="1434.2" cy="629.1" r="6.9" fill="#A5A5A5"/>
<circle cx="1393.5" cy="648.8" r="6.9" fill="#A5A5A5"/>
<circle cx="1384.9" cy="634" r="6.9" fill="#A5A5A5"/>
<circle cx="1415.7" cy="614.2" r="6.9" fill="#A5A5A5"/>
<circle cx="1399.7" cy="629.1" r="6.9" fill="#A5A5A5"/>
<circle cx="1421.9" cy="636.4" r="6.9" fill="#A5A5A5"/>
<circle cx="1384.7" cy="646.3" r="6.9" fill="#A5A5A5"/>
<circle cx="1439.1" cy="636.4" r="6.9" fill="#A5A5A5"/>
<circle cx="1457.7" cy="343.7" r="6.9" fill="#FFC000"/>
<circle cx="1399.3" cy="498.1" r="6.9" fill="#FFC000"/>
<circle cx="1395.5" cy="515.3" r="6.9" fill="#FFC000"/>
<circle cx="1439" cy="512.1" r="6.9" fill="#FFC000"/>
<circle cx="1497.7" cy="600.7" r="6.9" fill="#FFC000"/>
<circle cx="1442.1" cy="592.5" r="6.9" fill="#FFC000"/>
<circle cx="1563.9" cy="644.3" r="6.9" fill="#FFC000"/>
<circle cx="1437.7" cy="632.5" r="6.9" fill="#FFC000"/>
<circle cx="1394.8" cy="584.4" r="6.9" fill="#FFC000"/>
<circle cx="1402.2" cy="591" r="6.9" fill="#FFC000"/>
<circle cx="1406.7" cy="595.5" r="6.9" fill="#FFC000"/>
<circle cx="1427.4" cy="592.5" r="6.9" fill="#FFC000"/>
<circle cx="1394.8" cy="617" r="6.9" fill="#FFC000"/>
<circle cx="1417" cy="646.5" r="6.9" fill="#FFC000"/>
<circle cx="1388.9" cy="649.1" r="6.9" fill="#FFC000"/>
<circle cx="1394.8" cy="642.1" r="6.9" fill="#FFC000"/>
<circle cx="1418.8" cy="587.7" r="6.9" fill="#FFC000"/>
<circle cx="1521.9" cy="468" r="5.7" fill="#33A457"/>
<circle cx="1443.6" cy="555" r="5.7" fill="#33A457"/>
<circle cx="1524.3" cy="587" r="5.7" fill="#33A457"/>
<circle cx="1499.1" cy="605.1" r="5.7" fill="#33A457"/>
<circle cx="1456.5" cy="596.2" r="5.7" fill="#33A457"/>
<circle cx="1473.9" cy="624.3" r="5.7" fill="#33A457"/>
<circle cx="1513.6" cy="645.1" r="5.7" fill="#33A457"/>
<circle cx="1530.9" cy="644.3" r="5.7" fill="#33A457"/>
<circle cx="1448.1" cy="633.5" r="5.7" fill="#33A457"/>
<circle cx="1431" cy="622.9" r="5.7" fill="#33A457"/>
<circle cx="1421.4" cy="614" r="5.7" fill="#33A457"/>
<circle cx="1414" cy="627.3" r="5.7" fill="#33A457"/>
<circle cx="1403.7" cy="617" r="5.7" fill="#33A457"/>
<circle cx="1393.3" cy="628.7" r="5.7" fill="#33A457"/>
<circle cx="1409.5" cy="636.2" r="5.7" fill="#33A457"/>
<circle cx="1402.2" cy="605.1" r="5.7" fill="#33A457"/>
<circle cx="1925" cy="616.2" r="5.7" fill="#33A457"/>
<circle cx="1630.5" cy="621.6" r="5.7" fill="#33A457"/>
<circle cx="1416.9" cy="631.5" r="5.7" fill="#33A457"/>
<circle cx="1412" cy="640.1" r="5.7" fill="#33A457"/>
<circle cx="1399.7" cy="634" r="5.7" fill="#33A457"/>
<circle cx="1418.1" cy="622.9" r="5.7" fill="#33A457"/>
<circle cx="1433" cy="639.9" r="5.5" fill="#CC99CC"/>
<circle cx="1417" cy="586.6" r="5.5" fill="#CC99CC"/>
<circle cx="1541.5" cy="620.7" r="6.9" fill="#264478"/>
<line x1="1399.9" y1="649.5" x2="1515.9" y2="219.6" stroke="#4472C4" stroke-width="3.6" stroke-linecap="round" stroke-dasharray="0 7" stroke-dashoffset="0"/>
<line x1="1386.5" y1="641.4" x2="1617.1" y2="390.6" stroke="#A5A5A5" stroke-width="3.6" stroke-linecap="round" stroke-dasharray="0 7" stroke-dashoffset="0"/>
<line x1="1386.5" y1="596.4" x2="1564.9" y2="576.5" stroke="#FFC000" stroke-width="3.6" stroke-linecap="round" stroke-dasharray="0 7" stroke-dashoffset="0"/>
<line x1="1386.5" y1="607.3" x2="1868.2" y2="543.6" stroke="#ED7D31" stroke-width="3.6" stroke-linecap="round" stroke-dasharray="0 7" stroke-dashoffset="0"/>
<line x1="1389.3" y1="615.7" x2="1924.2" y2="596.7" stroke="#33A457" stroke-width="3.6" stroke-linecap="round" stroke-dasharray="0 7" stroke-dashoffset="0"/>
<text x="1578" y="130.9" font-size="25.4" fill="#4472C4" text-anchor="middle" textLength="214.8" lengthAdjust="spacing">y = 0.4292x - 74.049</text>
<text x="1578" y="161.5" font-size="25.4" fill="#4472C4" text-anchor="middle" textLength="120.4" lengthAdjust="spacing">R² = 0.6501</text>
<text x="1608" y="342.3" font-size="24.6" fill="#A5A5A5" text-anchor="middle" textLength="211.4" lengthAdjust="spacing">y = 0.1259x + 6.9325</text>
<text x="1608" y="371" font-size="24.6" fill="#A5A5A5" text-anchor="middle" textLength="117.8" lengthAdjust="spacing">R² = 0.4545</text>
<text x="1649.5" y="477.7" font-size="25.4" fill="#FFC000" text-anchor="middle" textLength="220.4" lengthAdjust="spacing">y = 0.0129x + 66.062</text>
<text x="1649.5" y="508.5" font-size="25.4" fill="#FFC000" text-anchor="middle" textLength="106.9" lengthAdjust="spacing">R² = 0.004</text>
<text x="1816.1" y="515.7" font-size="25.4" fill="#ED7D31" text-anchor="middle" textLength="220.7" lengthAdjust="spacing">y = 0.0153x + 52.527</text>
<text x="1816.1" y="546.9" font-size="25.4" fill="#ED7D31" text-anchor="middle" textLength="107.7" lengthAdjust="spacing">R² = 0.033</text>
<text x="1807.2" y="595.9" font-size="25.4" fill="#33A457" text-anchor="middle" textLength="219.8" lengthAdjust="spacing">y = 0.0041x + 42.327</text>
<text x="1807.2" y="626.3" font-size="25.4" fill="#33A457" text-anchor="middle" textLength="122" lengthAdjust="spacing">R² = 0.0117</text>
<line x1="1419.5" y1="644.2" x2="1419.5" y2="45.6" stroke="#000" stroke-width="3.4" stroke-dasharray="27.8 10.75"/>
<line x1="1392" y1="607.2" x2="1946" y2="607.2" stroke="#000" stroke-width="3.4" stroke-dasharray="27.8 10.75"/>
</g>
<text x="33.4" y="33.8" font-size="42.8">(a)</text>
<text x="645.0" y="33.8" font-size="42.8">(b)</text>
<text x="1303.4" y="29.5" font-size="42.8">(c)</text>
<text transform="translate(21.6,412.5) rotate(-90)" font-size="30.4" text-anchor="middle" textLength="238.5" lengthAdjust="spacingAndGlyphs">Subway length (km)</text>
<text x="288.9" y="734.4" font-size="30.4" textLength="161.6" lengthAdjust="spacingAndGlyphs">Pop. (million)</text>
<text x="889.1" y="734.3" font-size="30.4" textLength="218.2" lengthAdjust="spacingAndGlyphs">GDP (billion US$)</text>
<text transform="translate(1565.9,734.3) scale(0.9655,1)" font-size="30.4">Built-up area (km<tspan font-size="19.3" dy="-10">2</tspan><tspan dy="10">)</tspan></text>
<circle cx="289.9" cy="788" r="5.7" fill="none" stroke="#4472C4" stroke-width="2.3"/>
<text x="308.3" y="801" font-size="38.7" textLength="93.8" lengthAdjust="spacingAndGlyphs">China</text>
<circle cx="454.7" cy="788" r="7.1" fill="#F6916F"/>
<text x="473.25" y="801" font-size="38.7" textLength="170.4" lengthAdjust="spacingAndGlyphs">Other Asia</text>
<circle cx="696.7" cy="788" r="7.1" fill="#A5A5A5"/>
<text x="717.3" y="801" font-size="38.7" textLength="111.1" lengthAdjust="spacingAndGlyphs">Europe</text>
<circle cx="881.7" cy="788" r="6.0" fill="#FFC000"/>
<text x="900.3" y="801" font-size="38.7" textLength="234.6" lengthAdjust="spacingAndGlyphs">North America</text>
<circle cx="1188.5" cy="788" r="6.0" fill="#33A457"/>
<text x="1207.3" y="801" font-size="38.7" textLength="227" lengthAdjust="spacingAndGlyphs">Latin America</text>
<circle cx="1486.8" cy="788" r="6.0" fill="#CC99CC"/>
<text x="1507.1" y="801" font-size="38.7" textLength="98.1" lengthAdjust="spacingAndGlyphs">Africa</text>
<circle cx="1658.9" cy="788" r="7.1" fill="#264478"/>
<text x="1678.05" y="801" font-size="38.7" textLength="126.3" lengthAdjust="spacingAndGlyphs">Oceania</text>
</svg>
</body></html>
